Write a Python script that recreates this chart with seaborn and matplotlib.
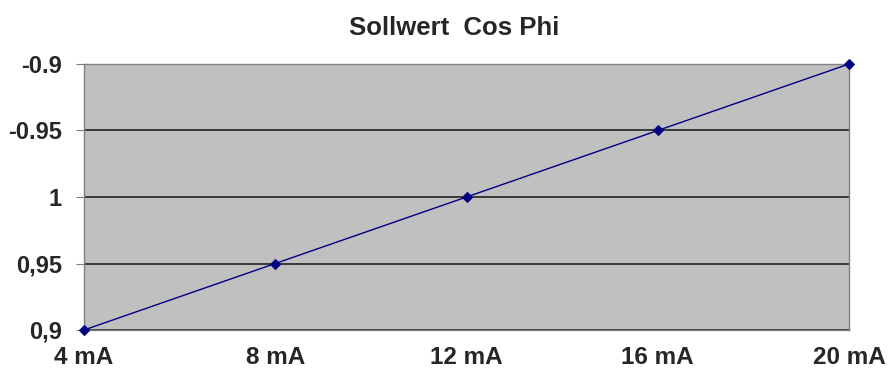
import numpy as np
import pandas as pd
import matplotlib
matplotlib.use("Agg")
import matplotlib.pyplot as plt
import seaborn as sns

# Daten: Strom (mA) -> Sollwert cos phi
strom = ["4 mA", "8 mA", "12 mA", "16 mA", "20 mA"]
cos_phi = [0.9, 0.95, 1.0, -0.95, -0.9]
y_labels = ["0,9", "0,95", "1", "-0.95", "-0.9"]
y_ticks = [0.9, 0.95, 1.0, -0.95, -0.9]


# cos phi auf durchgehende Achse abbilden (induktiv unten, kapazitiv oben)
def phi_pos(v):
    v = np.asarray(v, dtype=float)
    return np.where(v > 0, v - 1.0, 1.0 + v)


df = pd.DataFrame({"x": np.arange(len(strom)), "y": phi_pos(cos_phi)})

sns.set_style("white")
plt.rcParams['font.family'] = ['Liberation Sans', 'DejaVu Sans']

fig = plt.figure(figsize=(8.9, 3.71), dpi=100)
ax = fig.add_axes([84 / 890, 1 - 330 / 371, (849 - 84) / 890, (330 - 64) / 371])
ax.set_facecolor("#c0c0c0")

sns.lineplot(data=df, x="x", y="y", ax=ax, color="#000080", linewidth=1,
             marker="D", markersize=5.5, markeredgecolor="#000080", clip_on=False, zorder=5)

ax.set_xlim(0, len(strom) - 1)
ax.set_ylim(-0.1, 0.1)
ax.set_xticks(df["x"])
ax.set_xticklabels(strom, fontsize=17.5, fontweight="bold")
ax.set_yticks(phi_pos(y_ticks))
ax.set_yticklabels(y_labels, fontsize=17, fontweight="bold")
ax.set_xlabel("")
ax.set_ylabel("")

ax.yaxis.grid(True, color="#222222", linewidth=1.2)
ax.xaxis.grid(False)
ax.set_axisbelow(True)
for s in ax.spines.values():
    s.set_color("#808080")
    s.set_linewidth(1)

ax.tick_params(axis="y", which="both", left=True, length=6, color="#808080", pad=10)
ax.tick_params(axis="x", bottom=False, pad=8)

fig.text(454 / 890, 1 - 28 / 371, "Sollwert  Cos Phi", fontsize=18.5, fontweight="bold",
         ha="center", va="center")

fig.savefig("out.png", dpi=100)
